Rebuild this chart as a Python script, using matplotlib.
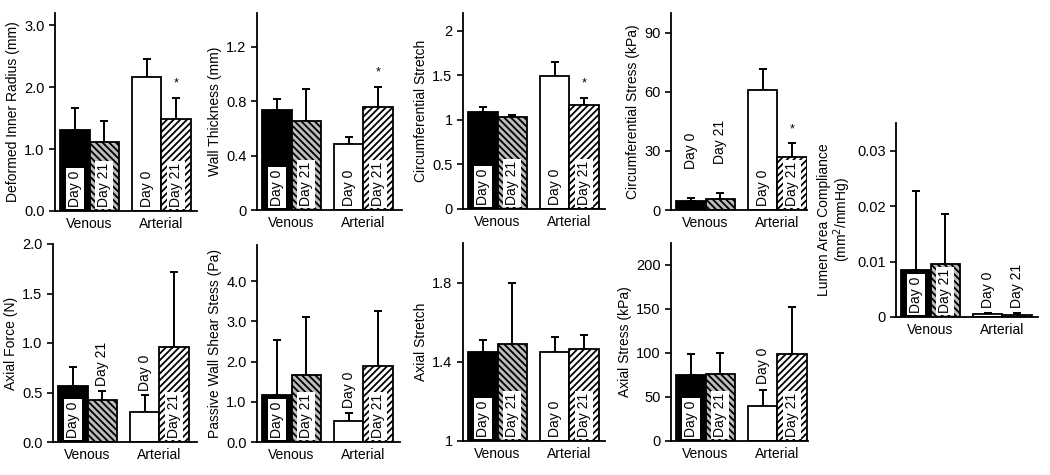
import numpy as np
import matplotlib
matplotlib.use('Agg')
import matplotlib.pyplot as plt

plt.rcParams['font.family'] = ['Liberation Sans', 'DejaVu Sans']
plt.rcParams['hatch.linewidth'] = 1.3

# данные: среднее и верхняя граница ошибки (V D0, V D21, A D0, A D21)
groups = ['Venous', 'Arterial']
days = ['Day 0', 'Day 21', 'Day 0', 'Day 21']

radius_mean = [1.31, 1.12, 2.17, 1.48]
radius_top = [1.67, 1.45, 2.45, 1.83]
thick_mean = [0.735, 0.656, 0.485, 0.76]
thick_top = [0.82, 0.887, 0.536, 0.906]
cstretch_mean = [1.09, 1.035, 1.49, 1.17]
cstretch_top = [1.14, 1.054, 1.65, 1.25]
cstress_mean = [4.8, 5.4, 60.8, 26.7]
cstress_top = [6.2, 8.4, 71.7, 33.8]
compl_mean = [0.0084, 0.0095, 0.0005, 0.0004]
compl_top = [0.0228, 0.0186, 0.0008, 0.0008]
force_mean = [0.566, 0.42, 0.303, 0.96]
force_top = [0.758, 0.52, 0.475, 1.72]
shear_mean = [1.17, 1.67, 0.51, 1.90]
shear_top = [2.53, 3.11, 0.73, 3.26]
astretch_mean = [1.452, 1.49, 1.452, 1.466]
astretch_top = [1.508, 1.80, 1.524, 1.537]
astress_mean = [75.5, 75.9, 39.8, 99.4]
astress_top = [99.4, 100.2, 58.4, 151.8]

# подписи над столбцами (1 = над ошибкой)
panels = [
    # ylabel, mean, top, ylim, ticks, ticklabels, above, star, box(px), pad
    ('Deformed Inner Radius (mm)', radius_mean, radius_top, (0, 3.2),
     [0, 1, 2, 3], ['0.0', '1.0', '2.0', '3.0'], [0, 0, 0, 0], True,
     (55, 13, 197, 211), 3),
    ('Wall Thickness (mm)', thick_mean, thick_top, (0, 1.45),
     [0, 0.4, 0.8, 1.2], ['0', '0.4', '0.8', '1.2'], [0, 0, 0, 0], True,
     (257, 13, 402, 210), 3),
    ('Circumferential Stretch', cstretch_mean, cstretch_top, (0, 2.2),
     [0, 0.5, 1, 1.5, 2], ['0', '0.5', '1', '1.5', '2'], [0, 0, 0, 0], True,
     (463, 13, 605, 209), 3),
    ('Circumferential Stress (kPa)', cstress_mean, cstress_top, (0, 100),
     [0, 30, 60, 90], ['0', '30', '60', '90'], [1, 1, 0, 0], True,
     (671, 13, 807, 210), 21),
    ('Lumen Area Compliance\n(mm$^2$/mmHg)', compl_mean, compl_top, (0, 0.035),
     [0, 0.01, 0.02, 0.03], ['0', '0.01', '0.02', '0.03'], [0, 0, 1, 1], False,
     (896, 123, 1038, 317), 3),
    ('Axial Force (N)', force_mean, force_top, (0, 2.0),
     [0, 0.5, 1, 1.5, 2], ['0.0', '0.5', '1.0', '1.5', '2.0'], [0, 1, 1, 0], False,
     (53, 244, 197, 442), 3),
    ('Passive Wall Shear Stess (Pa)', shear_mean, shear_top, (0, 4.9),
     [0, 1, 2, 3, 4], ['0.0', '1.0', '2.0', '3.0', '4.0'], [0, 0, 1, 0], False,
     (257, 245, 400, 442), 3),
    ('Axial Stretch', astretch_mean, astretch_top, (1, 2.0),
     [1, 1.4, 1.8], ['1', '1.4', '1.8'], [0, 0, 0, 0], False,
     (463, 243, 605, 441), 3),
    ('Axial Stress (kPa)', astress_mean, astress_top, (0, 225),
     [0, 50, 100, 150, 200], ['0', '50', '100', '150', '200'], [0, 0, 1, 0], False,
     (671, 243, 808, 441), 4),
]

W, H = 1050, 475
x = np.array([0.68, 1.68, 3.13, 4.13])
gx = [1.18, 3.63]
colors = ['black', '#bdbdbd', 'white', 'white']
hatches = [None, '\\\\\\\\\\', None, '/////']

fig = plt.figure(figsize=(W / 100, H / 100), dpi=100)

for (ylab, mean, top, ylim, ticks, tlabels, above, star, box, pad) in panels:
    x0, y0, x1, y1 = box
    ax = fig.add_axes([x0 / W, 1 - y1 / H, (x1 - x0) / W, (y1 - y0) / H])
    mean = np.array(mean)
    err = np.array(top) - mean
    base = ylim[0]
    ax.bar(x, mean - base, bottom=base, width=1.0, color=colors, hatch=hatches,
           edgecolor='black', linewidth=1.3, zorder=2)
    ax.errorbar(x, mean, yerr=[np.zeros(4), err], fmt='none', ecolor='black',
                elinewidth=1.4, capsize=3, capthick=1.4, zorder=1)
    for i in range(4):
        if above[i]:
            ax.annotate(days[i], (x[i], top[i]), xytext=(0, pad), textcoords='offset points',
                        rotation=90, ha='center', va='bottom', fontsize=10, zorder=4)
        else:
            ax.annotate(days[i], (x[i], base), xytext=(0, 3), textcoords='offset points',
                        rotation=90, ha='center', va='bottom', fontsize=10, zorder=4,
                        bbox=dict(boxstyle='square,pad=0.15', fc='white', ec='none'))
    if star:
        ax.annotate('*', (x[3], top[3]), xytext=(0, 6), textcoords='offset points',
                    ha='center', va='bottom', fontsize=9, zorder=4)
    ax.set_xlim(0, 4.85 * (x1 - x0) / 142)
    ax.set_ylim(*ylim)
    ax.set_yticks(ticks)
    ax.set_yticklabels(tlabels)
    ax.set_xticks(gx)
    ax.set_xticklabels(groups)
    ax.tick_params(axis='x', length=0, labelsize=10, pad=4)
    ax.tick_params(axis='y', length=4, width=1.2, labelsize=10.5, direction='out')
    ax.set_ylabel(ylab, fontsize=10, labelpad=3, linespacing=1.0)
    for s in ['top', 'right']:
        ax.spines[s].set_visible(False)
    for s in ['left', 'bottom']:
        ax.spines[s].set_linewidth(1.3)

fig.savefig('out.png', dpi=100)
